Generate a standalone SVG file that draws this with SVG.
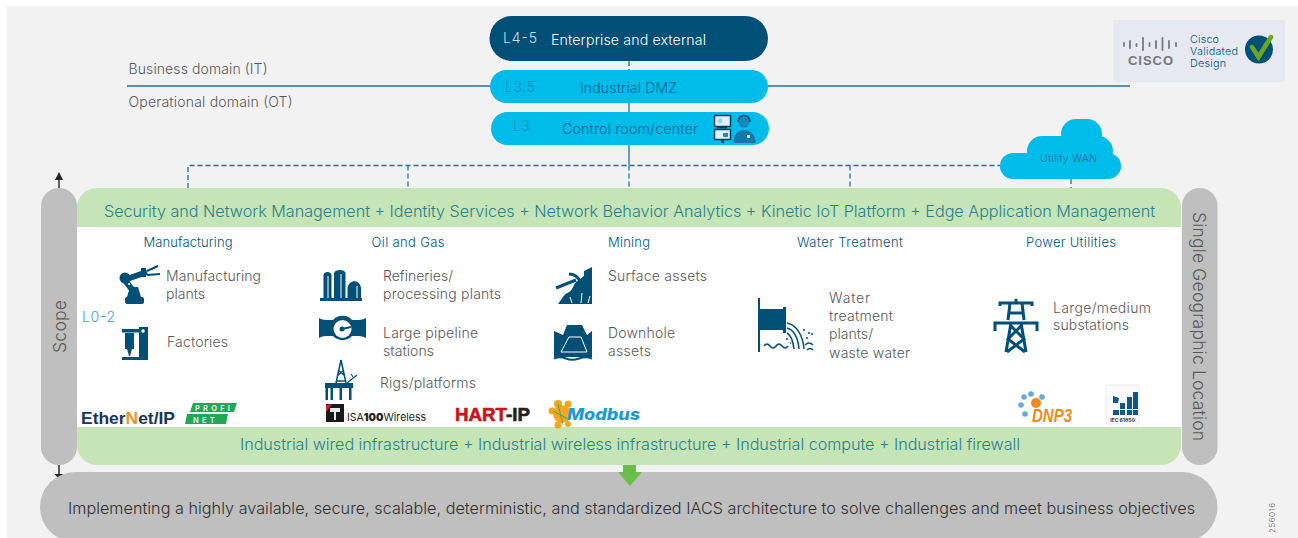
<svg xmlns="http://www.w3.org/2000/svg" width="1298" height="538" viewBox="0 0 1298 538">
<defs>
<style>
text{font-family:"Inter","Liberation Sans",sans-serif;font-weight:300}
.g{fill:#58585a;font-size:14px}
.h{fill:#00567f;font-size:13px;text-anchor:middle;font-weight:300}
.b{fill:#2b7f8e;font-size:16.200px}
.i{fill:#004f76}
.dash{fill:none;stroke:#1f6f95;stroke-width:1.300;stroke-dasharray:5 3}
.sol{fill:none;stroke:#2a6f96;stroke-width:1.300}
.cut{fill:none;stroke:#fff;stroke-width:1}
.ln{fill:none;stroke:#004f76}
.bl{fill:#6aa7dc}
.or{fill:#f2a71b}
</style>
</defs>
<rect width="1298" height="538" fill="#fff"/>
<rect x="7" y="6" width="1291" height="532" fill="#f2f2f2"/>

<g id="connectors">
<path class="sol" d="M127 86H490M768 86H1130M629 103V112M629 145V165"/>
<path class="dash" d="M629 61V70M188 188V165.500H1000M408 165.500V188M629 165.500V188M850 165.500V188M1071 179V188"/>
<path d="M59 188V178" stroke="#222" stroke-width="1.400" fill="none"/>
<path d="M55 180L59 172L63 180Z" fill="#222"/>
<path d="M59 465V474" stroke="#222" stroke-width="1.400" fill="none"/>
<path d="M54.500 474H63.500L59 479Z" fill="#222"/>
</g>

<g id="level-45"><rect x="489.500" y="16" width="278.500" height="45" rx="22.500" fill="#004f76"/>
<text x="503" y="43" fill="#cfdfe8" font-size="14" textLength="34">L4-5</text>
<text x="551" y="45" fill="#fff" font-size="14.200" textLength="155">Enterprise and external</text></g>
<g id="level-35"><rect x="490" y="70" width="278" height="33" rx="16.500" fill="#00bceb"/>
<text x="505" y="92" fill="#1a8fc2" font-size="14" textLength="30">L3.5</text>
<text x="580" y="93" fill="#00608d" font-size="14" textLength="97">Industrial DMZ</text></g>
<g id="level-3"><rect x="491" y="112" width="278" height="33" rx="16.500" fill="#00bceb"/>
<text x="513" y="131" fill="#1a8fc2" font-size="14">L3</text>
<text x="562" y="134" fill="#00608d" font-size="14.200" textLength="136">Control room/center</text>
<g id="control-icon">
<rect x="714.500" y="115.500" width="16" height="11" fill="#dff2fa" stroke="#003f5f" stroke-width="1.500"/>
<rect x="714.500" y="129.500" width="16" height="10" fill="#dff2fa" stroke="#003f5f" stroke-width="1.500"/>
<circle cx="720" cy="121" r="2.500" fill="#9fd3ea"/><rect x="723" y="133" width="5" height="4" fill="#2f86b5"/>
<rect x="717" y="127" width="10" height="1.500" fill="#003f5f"/><rect x="721" y="140" width="3" height="3" fill="#003f5f"/>
<circle cx="744" cy="122" r="5.500" fill="#1a86b8"/>
<path d="M738 122A6 6.500 0 0 1 750 122" fill="none" stroke="#00507a" stroke-width="1.600"/>
<path d="M733.500 143C733.500 134 738 130 744 130C750 130 755.500 134 755.500 143Z" fill="#1478ab"/>
<rect x="747" y="135" width="3" height="3" fill="#dff2fa"/>
</g></g>

<g id="domain-labels">
<text class="g" x="128.500" y="74" textLength="139">Business domain (IT)</text>
<text class="g" x="128.500" y="107" textLength="164">Operational domain (OT)</text>
</g>

<g id="utility-wan">
<rect x="1000" y="153" width="121" height="26" rx="13" fill="#00bceb"/>
<rect x="1027" y="136" width="86" height="30" rx="15" fill="#00bceb"/>
<rect x="1061" y="119" width="41" height="30" rx="15" fill="#00bceb"/>
<text x="1040" y="162" fill="#2f6f8f" font-size="10.500" textLength="57">Utility WAN</text>
</g>

<g id="cvd-badge">
<rect x="1113" y="20" width="172" height="62" rx="2" fill="#e6e9f2"/>
<path d="M1124 43v3M1130 41v7M1136.500 44v2M1143 38v12M1149.500 43v3M1156 41v7M1162.500 38v12M1169 41v7M1176 43v3" stroke="#77787b" stroke-width="1.800" stroke-linecap="round" fill="none"/>
<text x="1128" y="65" fill="#77787b" font-size="13" textLength="45" style="font-weight:700;font-family:'Liberation Sans',sans-serif">CISCO</text>
<text x="1190" y="43" fill="#00567f" font-size="10.800" textLength="29">Cisco</text>
<text x="1190" y="55" fill="#00567f" font-size="10.800" textLength="48">Validated</text>
<text x="1190" y="67" fill="#00567f" font-size="10.800" textLength="36">Design</text>
<circle cx="1259" cy="49.500" r="14" fill="#004f76"/>
<path d="M1252 47L1258.500 57L1271 37" fill="none" stroke="#6ba820" stroke-width="4.500" stroke-linecap="round"/>
</g>

<g id="main-panel">
<rect x="77" y="227" width="1104" height="200" fill="#fff"/>
<path d="M77 227V208A20 20 0 0 1 97 188H1161A20 20 0 0 1 1181 208V227Z" fill="#c5e5b6"/>
<path d="M77 427H1181V445A20 20 0 0 1 1161 465H97A20 20 0 0 1 77 445Z" fill="#c5e5b6"/>
<text class="b" x="104" y="217" textLength="1051">Security and Network Management + Identity Services + Network Behavior Analytics + Kinetic IoT Platform + Edge Application Management</text>
<text class="b" x="240" y="450" textLength="780">Industrial wired infrastructure + Industrial wireless infrastructure + Industrial compute + Industrial firewall</text>
<text x="82" y="322" fill="#3f9bd8" font-size="14" textLength="33">L0-2</text>
</g>

<g id="scope"><rect x="41" y="188" width="36" height="277" rx="18" fill="#bfbfbf"/>
<text transform="translate(66 353) rotate(-90)" fill="#58585a" font-size="17.500" textLength="53">Scope</text></g>
<g id="single-location"><rect x="1182" y="188" width="35.500" height="277" rx="17.700" fill="#bfbfbf"/>
<text transform="translate(1193 212) rotate(90)" fill="#58585a" font-size="17.500" textLength="229">Single Geographic Location</text></g>

<g id="manufacturing">
<text class="h" x="188" y="247" textLength="89">Manufacturing</text>
<g id="icon-robot"><rect class="i" x="125" y="297" width="19" height="7" rx="2"/>
<path class="i" d="M127 297L130 287H138L141 297Z"/>
<path d="M124 280L147 272M125 280L133 291" class="ln" stroke-width="6"/>
<path d="M147 271L158 266M147 275L160 274" class="ln" stroke-width="2"/>
<circle cx="125" cy="278" r="5.500" class="i"/><rect x="141" y="268" width="5" height="9" class="i"/>
<circle cx="129" cy="284" r="1" fill="#fff"/></g>
<text class="g" x="166" y="281" textLength="95">Manufacturing</text><text class="g" x="166" y="299" textLength="39">plants</text>
<g id="icon-factory"><rect class="i" x="122" y="329" width="24" height="3.500"/><rect class="i" x="139" y="327" width="9" height="31"/><rect class="i" x="122" y="357" width="26" height="3"/>
<rect class="i" x="125" y="333" width="9" height="16"/><path class="i" d="M127 349H132L130 356H129Z"/>
<circle cx="143" cy="331" r="1.800" fill="#fff"/></g>
<text class="g" x="167" y="347" textLength="61">Factories</text>
</g>

<g id="oil-gas">
<text class="h" x="408" y="247" textLength="73">Oil and Gas</text>
<g id="icon-refinery"><path class="i" d="M320 301V298H323.500V275C324 271 331 271 331.500 275V298H334V273C335 269 345 269 345.500 273V298H347.500V288C349 279 360 279 361 288V298H362V301Z"/>
<path class="cut" d="M328 276V298M341 274V298M357 286V298"/></g>
<text class="g" x="383" y="281" textLength="70">Refineries/</text><text class="g" x="383" y="299" textLength="118">processing plants</text>
<g id="icon-pipeline"><path class="i" d="M319 318C322 320 326 320 329 320H333A13 13 0 0 1 352 320H356C359 320 362 320 366 318V338C362 336 359 336 356 336H352A13 13 0 0 1 333 336H329C326 336 322 336 319 338Z"/>
<circle cx="342.500" cy="329" r="9" fill="#fff"/><path d="M342 329L351 327" class="ln" stroke-width="2"/><circle cx="342" cy="329" r="2.500" class="i"/></g>
<text class="g" x="383" y="338" textLength="95">Large pipeline</text><text class="g" x="383" y="356" textLength="51">stations</text>
<g id="icon-rig"><path d="M341 360L336 383M341 360L346 383M337 376L344 370M338 370L345 376M336 381H346" class="ln" stroke-width="1.500"/>
<path class="i" d="M325 383H353V388H351.500V400H349V388H342V400H339.500V388H333V400H330.500V388H328V400H325.500V388H325Z"/>
<path d="M347 383L357 375M353 377L351 374" class="ln" stroke-width="1.100"/></g>
<text class="g" x="380" y="388" textLength="96">Rigs/platforms</text>
</g>

<g id="mining">
<text class="h" x="629" y="247" textLength="42">Mining</text>
<g id="icon-surface"><path class="i" d="M592 267V304H558L563 297C566 292 570 293 572 289L575 283L584 276V271Z"/>
<path d="M556 288L576 280M569 274C575 274 579 277 581 284" class="ln" stroke-width="3"/>
<path class="cut" d="M570 297L572 303M582 293L581 303M590 296L588 303"/></g>
<text class="g" x="608" y="281" textLength="99">Surface assets</text>
<g id="icon-downhole"><path class="i" d="M554 331L563 335L567 325H582L587 335L592 331V357H554Z"/><path d="M561 352L569 337H581L587 352Z" class="cut" stroke-width="1.300"/><path d="M554 358.500Q560 356 566 358.500T579 358.500T592 358.500" class="ln" stroke-width="2"/></g>
<text class="g" x="608" y="338" textLength="67">Downhole</text><text class="g" x="608" y="356" textLength="43">assets</text>
</g>

<g id="water-treatment">
<text class="h" x="850" y="247" textLength="106">Water Treatment</text>
<g id="icon-water"><rect class="i" x="758" y="298" width="2" height="54"/><rect class="i" x="760" y="309" width="23" height="21"/><rect class="i" x="783" y="307" width="3" height="26"/>
<path d="M787 323C797 325 803 336 804 349M787 328C794 330 798 338 799 349M787 333C791 335 793 341 794 349" class="ln" stroke-width="1.500"/>
<path d="M764 346Q767 342 770 346T776 346T782 346T788 346" class="ln" stroke-width="1.500"/>
<path d="M803 330h2M808 333h2M806 338h2M811 334h2M805 345q4 -4 8 0M807 350q3 -3 6 0M786 339h2M790 343h1" class="ln" stroke-width="1.500"/></g>
<text class="g" x="829" y="303" textLength="41">Water</text><text class="g" x="829" y="321" textLength="64">treatment</text><text class="g" x="829" y="339" textLength="44">plants/</text><text class="g" x="829" y="358" textLength="81">waste water</text>
</g>

<g id="power-utilities">
<text class="h" x="1071" y="247" textLength="90">Power Utilities</text>
<g id="icon-tower"><path d="M1000 306V303H1032V306M1016 299V303M1010 303L1008 320M1022 303L1024 320M995 331V323H1037V331M1011 323L1006 352M1021 323L1026 352M1011 326L1024 339L1007 352M1021 326L1008 339L1025 352M1009 313H1023" class="ln" stroke-width="3"/></g>
<text class="g" x="1053" y="313" textLength="98">Large/medium</text><text class="g" x="1053" y="330" textLength="76">substations</text>
</g>

<g id="protocol-logos">
<g id="ethernet-ip"><text x="81" y="424" fill="#17365d" font-size="16.500" textLength="94" lengthAdjust="spacingAndGlyphs" style="font-weight:700;font-family:'Liberation Sans',sans-serif">Ether<tspan fill="#e8952c">N</tspan>et/IP</text></g>
<g id="profinet"><path d="M193 403H237L234 412H190Z M187 414H228L226 424H185Z" fill="#1fa85a"/>
<text x="195" y="411" fill="#d8f1e0" font-size="7.500" letter-spacing="3.200" style="font-weight:700">PROFI</text><text x="193" y="422.500" fill="#d8f1e0" font-size="7.500" letter-spacing="3.200" style="font-weight:700">NET</text></g>
<g id="isa100"><rect x="326" y="404" width="18" height="18" fill="#1a1a1a"/><path d="M330 408H340V412H336V420H334V412H330Z" fill="#e8e8e8"/><path d="M326 405L332 404L326 412Z" fill="#d02030"/>
<text x="347" y="421" fill="#222" font-size="11" textLength="79" lengthAdjust="spacingAndGlyphs" style="font-weight:400">ISA<tspan style="font-weight:900">100</tspan>Wireless</text></g>
<g id="hart-ip"><text x="455" y="421" fill="#c4161c" font-size="18" textLength="75" lengthAdjust="spacingAndGlyphs" style="font-weight:700;font-family:'Liberation Sans',sans-serif" stroke="#c4161c" stroke-width=".6">HART<tspan fill="#222" stroke="#222">-IP</tspan></text></g>
<g id="modbus"><circle cx="562" cy="414" r="9" class="or"/><circle cx="552" cy="411" r="3.500" class="or"/><circle cx="558" cy="404" r="4" class="or"/><circle cx="568" cy="404" r="3.500" class="or"/><circle cx="558" cy="425" r="3.500" class="or"/><circle cx="568" cy="424" r="3" class="or"/>
<path d="M553 411L570 420M558 404L563 425" stroke="#2e9c7a" stroke-width=".8" fill="none"/>
<text x="567" y="420" fill="#1b9ad6" font-size="16" textLength="73" lengthAdjust="spacingAndGlyphs" style="font-weight:800;font-style:italic">Modbus</text></g>
<g id="dnp3"><circle cx="1036" cy="403" r="5" fill="#f08a1d"/><circle cx="1024" cy="397" r="2.800" class="bl"/><circle cx="1031" cy="394" r="2.800" class="bl"/><circle cx="1042" cy="397" r="2.800" class="bl"/><circle cx="1021" cy="405" r="2.800" class="bl"/><circle cx="1025" cy="414" r="2.800" class="bl"/>
<text x="1032" y="421.500" fill="#f08a1d" font-size="19" textLength="40" lengthAdjust="spacingAndGlyphs" style="font-weight:700;font-style:italic;font-family:'Liberation Sans',sans-serif">DNP3</text></g>
<g id="iec"><rect x="1106" y="385" width="33" height="39" rx="1" fill="#fafafa" stroke="#ececec"/>
<path d="M1113 396L1119 398L1118 403H1113ZM1120 403H1125V409H1120ZM1127 397H1132V409H1127ZM1133 392H1138V409H1133ZM1113 410H1119V415H1113ZM1120 410H1125V415H1120ZM1127 410H1132V415H1127ZM1133 410H1138V415H1133Z" fill="#12558a"/>
<text x="1122.500" y="421.500" fill="#333" font-size="5" text-anchor="middle" style="font-weight:700">IEC 61850</text></g>
</g>

<g id="objective">
<rect x="40" y="472" width="1177.500" height="70" rx="35" fill="#bfbfbf"/>
<path d="M623 465H636V472H642L630 486L618 472H623Z" fill="#6abf4b"/>
<text x="68" y="514" fill="#2f2f31" font-size="16.200" textLength="1127">Implementing a highly available, secure, scalable, deterministic, and standardized IACS architecture to solve challenges and meet business objectives</text>
</g>
<text transform="translate(1275 533) rotate(-90)" fill="#666" font-size="8" textLength="30">256016</text>
</svg>
